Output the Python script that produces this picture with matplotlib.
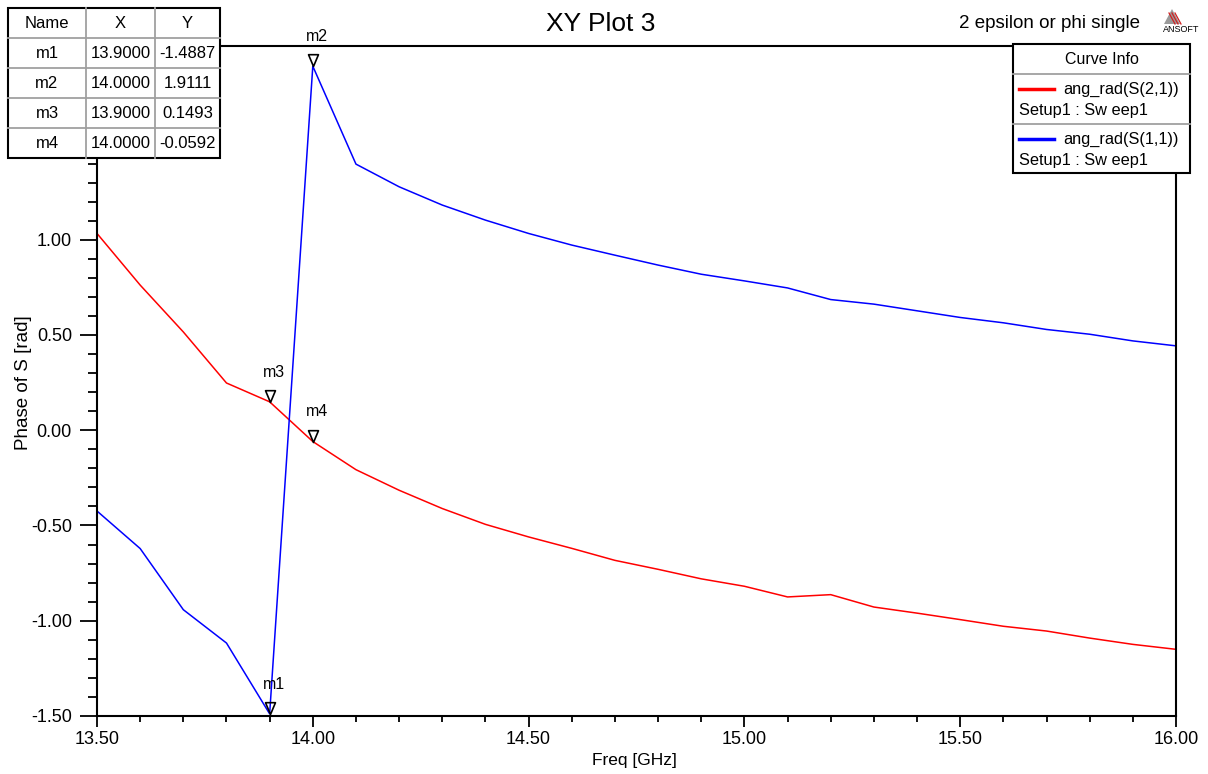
import matplotlib
matplotlib.use("Agg")
import matplotlib.pyplot as plt
import numpy as np
from matplotlib.ticker import MultipleLocator, FormatStrFormatter
from matplotlib.path import Path
from matplotlib.patches import Rectangle, Polygon

plt.rcParams['font.family'] = ['Liberation Sans', 'DejaVu Sans']

# ---------------- data ----------------
freq = [13.5, 13.6, 13.7, 13.8, 13.9, 14.0, 14.1, 14.2, 14.3, 14.4, 14.5, 14.6, 14.7,
        14.8, 14.9, 15.0, 15.1, 15.2, 15.3, 15.4, 15.5, 15.6, 15.7, 15.8, 15.9, 16.0]
s21 = [1.033, 0.762, 0.516, 0.248, 0.1493, -0.0592, -0.207, -0.315, -0.411, -0.494,
       -0.560, -0.620, -0.683, -0.730, -0.780, -0.819, -0.875, -0.863, -0.928, -0.960,
       -0.994, -1.029, -1.054, -1.091, -1.124, -1.150]
s11 = [-0.424, -0.621, -0.942, -1.117, -1.4887, 1.9111, 1.397, 1.278, 1.182, 1.103,
       1.033, 0.972, 0.919, 0.867, 0.819, 0.784, 0.747, 0.686, 0.662, 0.627,
       0.592, 0.564, 0.529, 0.504, 0.469, 0.443]
series_names = ["ang_rad(S(2,1))", "ang_rad(S(1,1))"]
series_sub = "Setup1 : Sw eep1"
series_colors = ["#ff0000", "#0000ff"]

marker_names = ["m1", "m2", "m3", "m4"]
marker_x = [13.9, 14.0, 13.9, 14.0]
marker_y = [-1.4887, 1.9111, 0.1493, -0.0592]
marker_xtxt = ["13.9000", "14.0000", "13.9000", "14.0000"]
marker_ytxt = ["-1.4887", "1.9111", "0.1493", "-0.0592"]

xticks = [13.5, 14.0, 14.5, 15.0, 15.5, 16.0]
yticks = [-1.5, -1.0, -0.5, 0.0, 0.5, 1.0]

W, H = 1208, 774
fig = plt.figure(figsize=(W / 100, H / 100), dpi=100)

# ---------------- main axes ----------------
L, R, T, B = 97, 1176, 46, 716
ax = fig.add_axes([L / W, 1 - B / H, (R - L) / W, (B - T) / H])
ax.plot(freq, s21, color=series_colors[0], lw=1.1)
ax.plot(freq, s11, color=series_colors[1], lw=1.1)
ax.set_xlim(13.5, 16.0)
ax.set_ylim(-1.5, 2.017)
ax.set_xticks(xticks)
ax.set_yticks(yticks)
ax.xaxis.set_minor_locator(MultipleLocator(0.1))
ax.yaxis.set_minor_locator(MultipleLocator(0.1))
ax.xaxis.set_major_formatter(FormatStrFormatter('%.2f'))
ax.yaxis.set_major_formatter(FormatStrFormatter('%.2f'))
for s in ax.spines.values():
    s.set_linewidth(1.5)
ax.tick_params(axis='both', which='both', direction='out', colors='black',
               labelsize=13, width=1.3)
ax.tick_params(axis='y', which='major', length=12, pad=6)
ax.tick_params(axis='y', which='minor', length=6.5)
ax.tick_params(axis='x', which='major', length=8, pad=3)
ax.tick_params(axis='x', which='minor', length=4.5)

# marker triangles (tip at data point)
tri = Path([(-0.42, 1.0), (0.42, 1.0), (0.0, 0.0), (-0.42, 1.0)],
           [Path.MOVETO, Path.LINETO, Path.LINETO, Path.CLOSEPOLY])
for name, mx, my in zip(marker_names, marker_x, marker_y):
    ax.plot([mx], [my], marker=tri, markersize=17, markerfacecolor='none',
            markeredgecolor='black', markeredgewidth=1.2, linestyle='none', clip_on=False)
    ax.annotate(name, (mx, my), xytext=(3, 16), textcoords='offset points',
                ha='center', va='bottom', fontsize=11.5, annotation_clip=False)

fig.text(634 / W, 1 - 760 / H, "Freq [GHz]", ha='center', va='center', fontsize=12.5)
fig.text(24 / W, 1 - 383 / H, "Phase of S [rad]", ha='center', va='center',
         rotation=90, fontsize=13.5)

# ---------------- overlay (table, legend, titles) ----------------
ov = fig.add_axes([0, 0, 1, 1])
ov.set_xlim(0, W)
ov.set_ylim(H, 0)
ov.axis('off')

fig.text(601 / W, 1 - 24 / H, "XY Plot 3", ha='center', va='center', fontsize=19)
fig.text(1140 / W, 1 - 24 / H, "2 epsilon or phi single", ha='right', va='center',
         fontsize=13.5)

# ANSOFT logo
ov.add_patch(Polygon([(1172, 9), (1164, 24), (1180, 24)], closed=True,
                     facecolor='#9a9a9a', edgecolor='none'))
for k in range(3):
    ov.plot([1169 + 3 * k, 1175 + 3 * k], [13, 24], color='#d02020', lw=0.9)
ov.text(1181, 30, "ANSOFT", ha='center', va='center', fontsize=6.5)

# marker table
cols_x = [8, 86, 155, 220]
row_top, row_h = 8, 30
grid = '#a0a0a0'
header = ["Name", "X", "Y"]
rows = [header] + [[n, xs, ys] for n, xs, ys in zip(marker_names, marker_xtxt, marker_ytxt)]
ov.add_patch(Rectangle((cols_x[0], row_top), cols_x[-1] - cols_x[0], row_h * len(rows),
                       facecolor='white', edgecolor='none'))
for i, row in enumerate(rows):
    yc = row_top + row_h * (i + 0.5)
    for j, txt in enumerate(row):
        xc = 0.5 * (cols_x[j] + cols_x[j + 1])
        ov.text(xc, yc, txt, ha='center', va='center', fontsize=12)
for i in range(1, len(rows)):
    ov.plot([cols_x[0], cols_x[-1]], [row_top + row_h * i] * 2, color=grid, lw=1.3)
for xx in cols_x[1:-1]:
    ov.plot([xx, xx], [row_top, row_top + row_h * len(rows)], color=grid, lw=1.3)
ov.add_patch(Rectangle((cols_x[0], row_top), cols_x[-1] - cols_x[0], row_h * len(rows),
                       facecolor='none', edgecolor='black', lw=1.5))

# curve info legend
lx0, lx1, ly0, ly1 = 1013, 1190, 44, 173
ov.add_patch(Rectangle((lx0, ly0), lx1 - lx0, ly1 - ly0, facecolor='white', edgecolor='none'))
ov.text(0.5 * (lx0 + lx1), 59, "Curve Info", ha='center', va='center', fontsize=11.5)
ov.plot([lx0, lx1], [74, 74], color=grid, lw=1.3)
ov.plot([lx0, lx1], [124, 124], color=grid, lw=1.3)
for k, (nm, col) in enumerate(zip(series_names, series_colors)):
    y1 = 89 + 50 * k
    ov.plot([1019, 1054], [y1, y1], color=col, lw=2.5)
    ov.text(1179, y1, nm, ha='right', va='center', fontsize=11.8)
    ov.text(1019, y1 + 21, series_sub, ha='left', va='center', fontsize=11.8)
ov.add_patch(Rectangle((lx0, ly0), lx1 - lx0, ly1 - ly0, facecolor='none',
                       edgecolor='black', lw=1.5))

fig.savefig("out.png", dpi=100)
